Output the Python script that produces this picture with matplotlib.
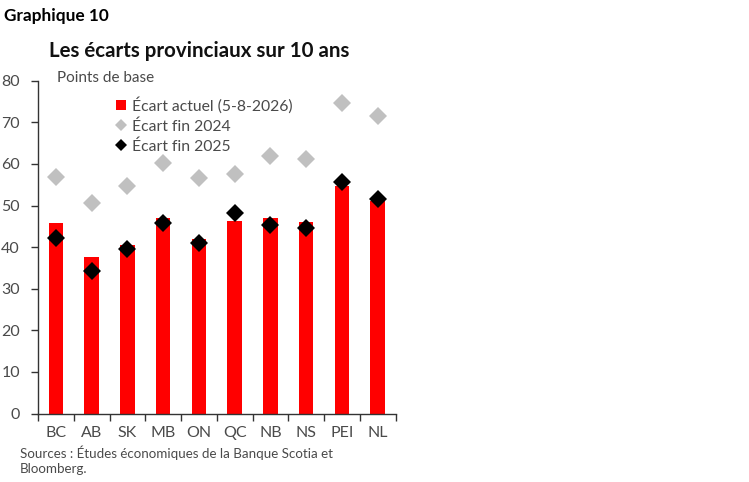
import matplotlib
matplotlib.use("Agg")
import matplotlib.pyplot as plt
from matplotlib.lines import Line2D
import numpy as np

plt.rcParams['font.family'] = ['Lato', 'DejaVu Sans']

provinces = ["BC", "AB", "SK", "MB", "ON", "QC", "NB", "NS", "PEI", "NL"]
ecart_actuel = [45.7, 37.6, 40.5, 47.0, 41.9, 46.2, 47.0, 46.1, 54.7, 51.1]
ecart_2024 = [56.8, 50.5, 54.7, 60.1, 56.5, 57.6, 61.9, 61.1, 74.7, 71.6]
ecart_2025 = [42.3, 34.3, 39.5, 45.7, 40.9, 48.2, 45.4, 44.5, 55.7, 51.6]
yticks = [0, 10, 20, 30, 40, 50, 60, 70, 80]

W, H = 749, 482
fig = plt.figure(figsize=(W / 100, H / 100), dpi=100)
ax = fig.add_axes([38 / W, 1 - 413.5 / H, (395.5 - 38) / W, (413.5 - 80.7) / H])

x = np.arange(len(provinces))
ax.bar(x, ecart_actuel, width=0.4, color="#ff0000", zorder=2)
ax.plot(x, ecart_2024, linestyle="none", marker="D", markersize=9.5, color="#c0c0c0",
        markeredgewidth=0, zorder=3)
ax.plot(x, ecart_2025, linestyle="none", marker="D", markersize=9.5, color="#000000",
        markeredgewidth=0, zorder=4)

ax.set_xlim(-0.5, len(provinces) - 0.5)
ax.set_ylim(0, 80)
ax.set_yticks(yticks)
ax.set_yticklabels([str(v) for v in yticks])
ax.set_xticks(np.arange(-0.5, len(provinces), 1.0))
ax.set_xticklabels([])
ax.set_xticks(x, minor=True)
ax.set_xticklabels(provinces, minor=True)
ax.tick_params(axis="x", which="minor", length=0, pad=9, labelsize=11.5, labelcolor="#4a4a4a")
ax.tick_params(axis="x", which="major", length=5, width=1, color="#333333", direction="out")
ax.tick_params(axis="y", length=5, width=1, color="#333333", direction="out", pad=8,
               labelsize=11.5, labelcolor="#4a4a4a")
for s in ["top", "right"]:
    ax.spines[s].set_visible(False)
for s in ["left", "bottom"]:
    ax.spines[s].set_color("#333333")
    ax.spines[s].set_linewidth(1)

fig.text(4 / W, 1 - 16 / H, "Graphique 10", fontsize=12.4, fontweight="bold",
         color="#000000", va="center", ha="left")
fig.text(199 / W, 1 - 51 / H, "Les écarts provinciaux sur 10 ans", fontsize=14.8,
         fontweight="bold", color="#111111", va="center", ha="center")
fig.text(57 / W, 1 - 78 / H, "Points de base", fontsize=11, color="#4a4a4a",
         va="center", ha="left")

handles = [
    Line2D([], [], linestyle="none", marker="s", markersize=7, color="#ff0000", markeredgewidth=0),
    Line2D([], [], linestyle="none", marker="D", markersize=6, color="#c0c0c0", markeredgewidth=0),
    Line2D([], [], linestyle="none", marker="D", markersize=6, color="#000000", markeredgewidth=0),
]
labels = ["Écart actuel (5-8-2026)", "Écart fin 2024", "Écart fin 2025"]
leg = ax.legend(handles, labels, loc="upper left", bbox_to_anchor=(107 / W, 1 - 89 / H),
                bbox_transform=fig.transFigure, frameon=False, fontsize=11.3,
                handlelength=0.8, handletextpad=0.3, labelspacing=0.35, borderpad=0)
for t in leg.get_texts():
    t.set_color("#4a4a4a")

fig.text(20 / W, 1 - 453 / H, "Sources : Études économiques de la Banque Scotia et",
         fontsize=9.6, color="#4a4a4a", va="center", ha="left")
fig.text(20 / W, 1 - 469 / H, "Bloomberg.", fontsize=9.6, color="#4a4a4a",
         va="center", ha="left")

fig.savefig("out.png", dpi=100)
